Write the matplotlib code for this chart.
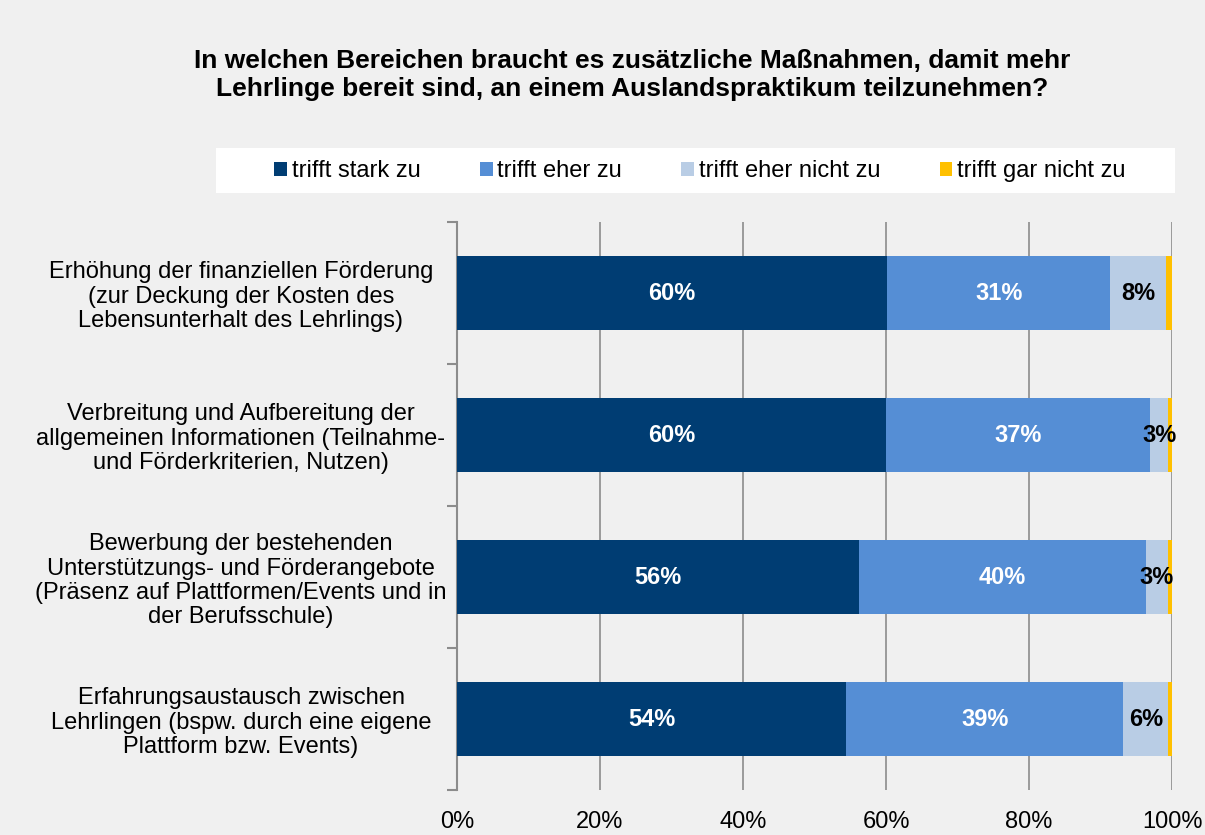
import matplotlib
matplotlib.use("Agg")
import matplotlib.pyplot as plt
from matplotlib.patches import Rectangle
from matplotlib.transforms import ScaledTranslation
import numpy as np

plt.rcParams['font.family'] = ['Liberation Sans', 'DejaVu Sans']

categories = [
    "Erhöhung der finanziellen Förderung\n(zur Deckung der Kosten des\nLebensunterhalt des Lehrlings)",
    "Verbreitung und Aufbereitung der\nallgemeinen Informationen (Teilnahme-\nund Förderkriterien, Nutzen)",
    "Bewerbung der bestehenden\nUnterstützungs- und Förderangebote\n(Präsenz auf Plattformen/Events und in\nder Berufsschule)",
    "Erfahrungsaustausch zwischen\nLehrlingen (bspw. durch eine eigene\nPlattform bzw. Events)",
]
series_names = ["trifft stark zu", "trifft eher zu", "trifft eher nicht zu", "trifft gar nicht zu"]
stark = [60.2, 60.0, 56.2, 54.4]
eher = [31.1, 36.9, 40.1, 38.8]
eher_nicht = [7.9, 2.6, 3.2, 6.3]
gar_nicht = [0.8, 0.5, 0.5, 0.5]
x_ticks = [0, 20, 40, 60, 80, 100]

colors = ["#003D73", "#558ED5", "#B9CDE5", "#FFC000"]
label_colors = ["white", "white", "black", None]
title = "In welchen Bereichen braucht es zusätzliche Maßnahmen, damit mehr\nLehrlinge bereit sind, an einem Auslandspraktikum teilzunehmen?"

FS = 17
bg = "#F0F0F0"
fig = plt.figure(figsize=(12.05, 8.35), dpi=100, facecolor=bg)
ax = fig.add_axes([457/1205, 1-790/835, (1172-457)/1205, (790-222)/835])
ax.set_facecolor(bg)

y = np.arange(len(categories))
left = np.zeros(len(categories))
data = [stark, eher, eher_nicht, gar_nicht]
for vals, c, name, lc in zip(data, colors, series_names, label_colors):
    vals = np.array(vals)
    ax.barh(y, vals, left=left, height=0.52, color=c, label=name, zorder=3)
    if lc is not None:
        for yi, l, v in zip(y, left, vals):
            ax.text(l + v/2, yi, f"{round(v):.0f}%", ha="center", va="center",
                    color=lc, fontsize=FS, fontweight="bold", zorder=4)
    left += vals

ax.set_xlim(0, 100)
ax.set_ylim(len(categories)-0.5, -0.5)
ax.set_xticks(x_ticks)
ax.set_xticklabels([f"{t}%" for t in x_ticks], fontsize=FS)
ax.tick_params(axis='x', length=0, pad=15)
ax.grid(axis='x', color="#8C8C8C", linewidth=1.2, zorder=1)

ax.set_yticks(np.arange(-0.5, len(categories)), labels=[""]*(len(categories)+1))
ax.tick_params(axis='y', which='major', length=7, width=1.5, color="#8C8C8C")
ax.set_yticks(y, labels=categories, minor=True)
ax.tick_params(axis='y', which='minor', length=0, pad=0, labelsize=FS)
for lab in ax.get_yticklabels(minor=True):
    lab.set_horizontalalignment("center")
    lab.set_linespacing(1.12)
    lab.set_transform(lab.get_transform() + ScaledTranslation(-(457-241)/100, 0, fig.dpi_scale_trans))

for s in ["top", "right", "bottom"]:
    ax.spines[s].set_visible(False)
ax.spines["left"].set_color("#8C8C8C")
ax.spines["left"].set_linewidth(1.5)

fig.text(632/1205, 1-75/835, title, ha="center", va="center", fontsize=19,
         fontweight="bold", linespacing=1.22)

fig.patches.append(Rectangle((216/1205, 1-193/835), (1175-216)/1205, 45/835,
                             transform=fig.transFigure, facecolor="white",
                             edgecolor="none", zorder=0))
handles, labels = ax.get_legend_handles_labels()
fig.legend(handles, labels, loc="center", bbox_to_anchor=(700/1205, 1-171/835),
           ncol=4, frameon=False, fontsize=FS, handlelength=0.55,
           handleheight=0.55, handletextpad=0.2, columnspacing=2.5,
           borderpad=0, borderaxespad=0)

fig.savefig("out.png", dpi=100, facecolor=bg)
